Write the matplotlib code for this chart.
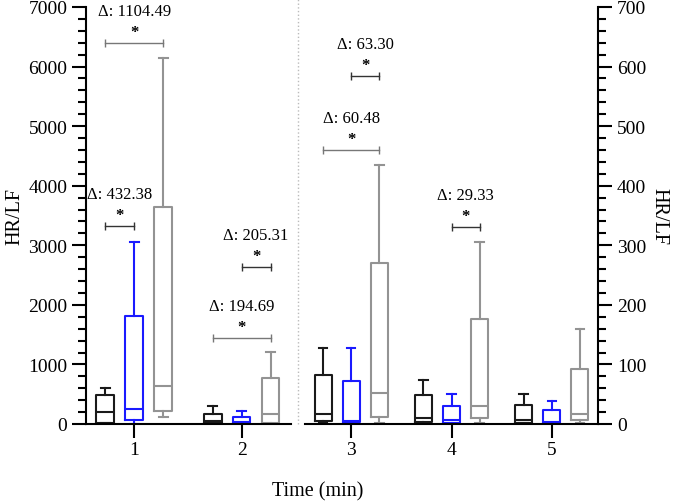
import matplotlib
matplotlib.use('Agg')
import matplotlib.pyplot as plt
from matplotlib.ticker import MultipleLocator
from matplotlib.lines import Line2D

plt.rcParams['font.family'] = ['Liberation Serif', 'DejaVu Serif']

times = [1, 2, 3, 4, 5]
tick_labels = ['1', '2', '3', '4', '5']

# times 1-2 are on the left axis (0-7000), times 3-5 on the right axis (0-700)
black_whislo = [10, 5, 2, 1, 1]
black_q1 = [25, 15, 5, 3, 2]
black_med = [195, 45, 16, 10, 6]
black_q3 = [490, 175, 82, 49, 32]
black_whishi = [610, 310, 128, 74, 50]

blue_whislo = [0, 3, 1, 0, 0]
blue_q1 = [60, 10, 3, 1, 1]
blue_med = [255, 30, 5, 6, 3]
blue_q3 = [1815, 125, 73, 31, 24]
blue_whishi = [3060, 225, 127, 51, 39]

gray_whislo = [125, 5, 2, 1, 2]
gray_q1 = [225, 15, 12, 10, 6]
gray_med = [640, 170, 52, 31, 17]
gray_q3 = [3650, 770, 270, 176, 93]
gray_whishi = [6150, 1210, 434, 306, 160]

# significance brackets
sig_time = [1, 1, 2, 2, 3, 3, 4]
sig_from = ['black', 'black', 'black', 'blue', 'black', 'blue', 'blue']
sig_to = ['gray', 'blue', 'gray', 'gray', 'gray', 'gray', 'gray']
sig_y = [6400, 3320, 1440, 2630, 460, 584, 330]
sig_text = ['Δ: 1104.49', 'Δ: 432.38', 'Δ: 194.69', 'Δ: 205.31',
            'Δ: 60.48', 'Δ: 63.30', 'Δ: 29.33']

groups = {
    'black': ('#1a1a1a', black_whislo, black_q1, black_med, black_q3, black_whishi, -1),
    'blue': ('#1a1aff', blue_whislo, blue_q1, blue_med, blue_q3, blue_whishi, 0),
    'gray': ('#939393', gray_whislo, gray_q1, gray_med, gray_q3, gray_whishi, 1),
}

fig = plt.figure(figsize=(6.81, 5.02), dpi=100)
ax1 = fig.add_axes([86 / 681, 77 / 502, 205 / 681, 417 / 502])
ax2 = fig.add_axes([305 / 681, 77 / 502, 293 / 681, 417 / 502])

panels = [(ax1, [1, 2], 0.27, 0.165), (ax2, [3, 4, 5], 0.28, 0.17)]

for ax, ts, off, w in panels:
    for name, (c, lo, q1, med, q3, hi, k) in groups.items():
        stats = []
        pos = []
        for t in ts:
            i = times.index(t)
            stats.append(dict(whislo=lo[i], q1=q1[i], med=med[i], q3=q3[i],
                              whishi=hi[i], fliers=[]))
            pos.append(t + k * off)
        lp = dict(color=c, linewidth=1.5)
        ax.bxp(stats, positions=pos, widths=w, showfliers=False,
               boxprops=lp, whiskerprops=lp, capprops=lp, medianprops=lp,
               manage_ticks=False)
    ax.set_xticks(ts)
    ax.set_xticklabels([tick_labels[times.index(t)] for t in ts])
    ax.spines['top'].set_visible(False)
    ax.tick_params(axis='x', length=10, width=1.5, labelsize=14, pad=2)
    ax.tick_params(axis='y', which='major', length=10, width=1.5, labelsize=14)
    ax.tick_params(axis='y', which='minor', length=6, width=1.5)
    for s in ax.spines.values():
        s.set_linewidth(1.5)

    for t, a, b, y, txt in zip(sig_time, sig_from, sig_to, sig_y, sig_text):
        if t not in ts:
            continue
        x0 = t + groups[a][6] * off
        x1 = t + groups[b][6] * off
        lc = '#777777' if (a, b) == ('black', 'gray') else '#333333'
        ax.plot([x0, x1], [y, y], color=lc, lw=1, marker='|', ms=6,
                clip_on=False)
        xm = (x0 + x1) / 2
        ax.annotate('*', (xm, y), xytext=(0, 8), textcoords='offset points',
                    ha='center', va='center', fontsize=12, fontweight='bold')
        ax.annotate(txt, (xm, y), xytext=(0, 23), textcoords='offset points',
                    ha='center', va='center', fontsize=12)

ax1.set_xlim(0.55, 2.46)
ax1.set_ylim(0, 7000)
ax1.yaxis.set_major_locator(MultipleLocator(1000))
ax1.yaxis.set_minor_locator(MultipleLocator(200))
ax1.spines['right'].set_visible(False)
ax1.set_ylabel('HR/LF', fontsize=14.5, labelpad=3)

ax2.set_xlim(2.54, 5.46)
ax2.set_ylim(0, 700)
ax2.yaxis.tick_right()
ax2.yaxis.set_label_position('right')
ax2.yaxis.set_major_locator(MultipleLocator(100))
ax2.yaxis.set_minor_locator(MultipleLocator(20))
ax2.spines['left'].set_visible(False)
ax2.set_ylabel('HR/LF', fontsize=14.5, rotation=270, labelpad=16)

fig.add_artist(Line2D([297.5 / 681, 297.5 / 681], [77 / 502, 1.0],
                      color='#bbbbbb', lw=1, linestyle=':'))

fig.text(318 / 681, 1 - 492 / 502, 'Time (min)', ha='center', va='center',
         fontsize=14.5)

fig.savefig('out.png', dpi=100)
